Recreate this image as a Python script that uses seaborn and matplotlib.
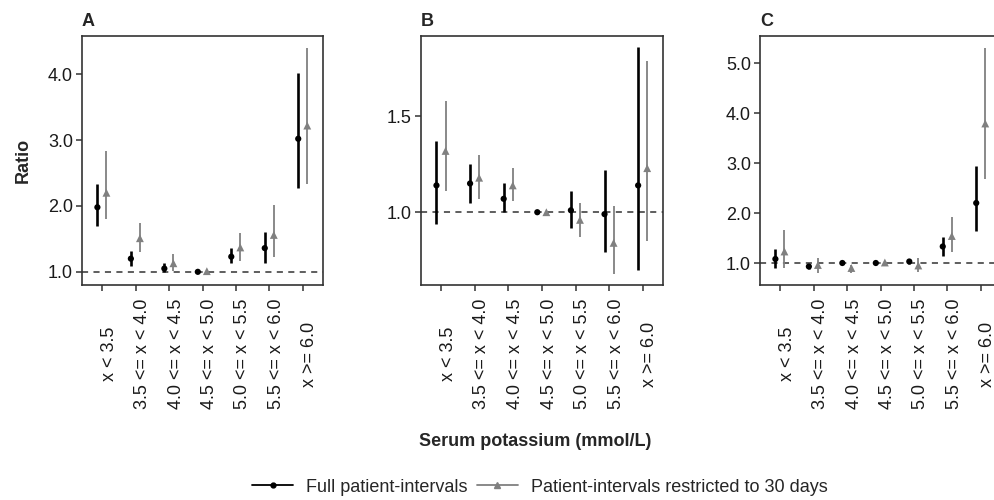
import pandas as pd
import matplotlib
matplotlib.use('Agg')
import matplotlib.pyplot as plt
import seaborn as sns
from matplotlib.lines import Line2D
from matplotlib.transforms import ScaledTranslation, blended_transform_factory

categories = ['x < 3.5', '3.5 <= x < 4.0', '4.0 <= x < 4.5', '4.5 <= x < 5.0',
              '5.0 <= x < 5.5', '5.5 <= x < 6.0', 'x >= 6.0']
panels = ['A', 'B', 'C']

# panel A
a_full = [1.98, 1.20, 1.05, 1.00, 1.23, 1.36, 3.02]
a_full_lo = [1.69, 1.09, 1.00, 1.00, 1.13, 1.13, 2.27]
a_full_hi = [2.33, 1.32, 1.13, 1.00, 1.36, 1.60, 4.02]
a_30 = [2.20, 1.51, 1.13, 1.01, 1.37, 1.56, 3.22]
a_30_lo = [1.80, 1.30, 1.02, 0.99, 1.17, 1.22, 2.33]
a_30_hi = [2.84, 1.74, 1.27, 1.02, 1.59, 2.01, 4.40]

# panel B
b_full = [1.14, 1.15, 1.07, 1.00, 1.01, 0.99, 1.14]
b_full_lo = [0.94, 1.05, 1.00, 1.00, 0.92, 0.79, 0.70]
b_full_hi = [1.37, 1.25, 1.15, 1.00, 1.11, 1.22, 1.86]
b_30 = [1.32, 1.18, 1.14, 1.00, 0.96, 0.84, 1.23]
b_30_lo = [1.11, 1.07, 1.06, 0.995, 0.87, 0.68, 0.85]
b_30_hi = [1.58, 1.30, 1.23, 1.005, 1.05, 1.03, 1.79]

# panel C
c_full = [1.08, 0.93, 1.00, 1.00, 1.03, 1.33, 2.20]
c_full_lo = [0.91, 0.88, 0.98, 1.00, 0.99, 1.15, 1.64]
c_full_hi = [1.28, 0.99, 1.02, 1.00, 1.08, 1.52, 2.95]
c_30 = [1.23, 0.96, 0.90, 1.01, 0.95, 1.54, 3.79]
c_30_lo = [0.91, 0.81, 0.80, 0.99, 0.83, 1.23, 2.68]
c_30_hi = [1.67, 1.11, 0.97, 1.03, 1.11, 1.92, 5.31]

ylims = {'A': (0.80, 4.58), 'B': (0.62, 1.92), 'C': (0.56, 5.54)}
yticks = {'A': [1.0, 2.0, 3.0, 4.0], 'B': [1.0, 1.5], 'C': [1.0, 2.0, 3.0, 4.0, 5.0]}

series = {
    'A': [(a_full, a_full_lo, a_full_hi), (a_30, a_30_lo, a_30_hi)],
    'B': [(b_full, b_full_lo, b_full_hi), (b_30, b_30_lo, b_30_hi)],
    'C': [(c_full, c_full_lo, c_full_hi), (c_30, c_30_lo, c_30_hi)],
}
groups = ['Full patient-intervals', 'Patient-intervals restricted to 30 days']
colors = {groups[0]: '#000000', groups[1]: '#808080'}
offsets = {groups[0]: -0.14, groups[1]: 0.13}

rows = []
for p in panels:
    for g, (est, lo, hi) in zip(groups, series[p]):
        for i in range(len(categories)):
            rows.append({'panel': p, 'group': g, 'idx': i, 'x': i + offsets[g],
                         'est': est[i], 'lo': lo[i], 'hi': hi[i]})
df = pd.DataFrame(rows)

sns.set_style('white')
plt.rcParams['font.family'] = ['Liberation Sans', 'DejaVu Sans']

fig = plt.figure(figsize=(9.94, 5.0), dpi=100)
lefts = [82, 421, 760]
widths = [241, 242, 241]
for p, left, w in zip(panels, lefts, widths):
    ax = fig.add_axes([left / 994, 1 - 285 / 500, w / 994, 249 / 500])
    sub = df[df['panel'] == p]
    ax.axhline(1.0, color='#333333', lw=1.1, ls=(0, (4, 3.5)), zorder=1)
    for g in groups:
        s = sub[sub['group'] == g]
        ax.vlines(s['x'], s['lo'], s['hi'], colors=colors[g],
                  lw=1.9 if g == groups[0] else 1.3, zorder=2)
    sns.scatterplot(data=sub, x='x', y='est', hue='group', style='group',
                    palette=colors, markers={groups[0]: 'o', groups[1]: '^'},
                    size='group', sizes={groups[0]: 20, groups[1]: 32},
                    edgecolor='none', legend=False, ax=ax, zorder=3)
    ax.set_xlim(-0.6, 6.6)
    ax.set_ylim(*ylims[p])
    ax.set_yticks(yticks[p])
    ax.set_yticklabels([f'{t:.1f}' for t in yticks[p]], fontsize=13)
    ax.set_xticks(range(len(categories)))
    ax.set_xticklabels([])
    # category labels, rotated and centred below each tick
    trans = blended_transform_factory(ax.transData, ax.transAxes) + \
        ScaledTranslation(7 / 100, -69 / 100, fig.dpi_scale_trans)
    for i, lab in enumerate(categories):
        ax.text(i, 0, lab, transform=trans, rotation=90, fontsize=13,
                ha='center', va='center', color='#1a1a1a')
    ax.tick_params(axis='both', bottom=True, left=True, length=4, width=1.1,
                   color='#333333')
    ax.tick_params(axis='y', pad=2.5, labelcolor='#1a1a1a')
    ax.set_xlabel('')
    ax.set_ylabel('')
    for sp in ax.spines.values():
        sp.set_color('#333333')
        sp.set_linewidth(1.2)
    ax.text(0, 1.025, p, transform=ax.transAxes, fontsize=13, fontweight='bold',
            ha='left', va='bottom')
    if p == 'A':
        ax.set_ylabel('Ratio', fontsize=13, fontweight='bold', labelpad=12)

fig.text(0.538, 0.116, 'Serum potassium (mmol/L)', fontsize=13, fontweight='bold',
         ha='center', va='center')

handles = [Line2D([], [], color='#000000', lw=1.3, marker='o', markersize=3.5),
           Line2D([], [], color='#808080', lw=1.3, marker='^', markersize=4)]
fig.legend(handles, groups, loc='center', bbox_to_anchor=(0.543, 0.026), ncol=2,
           frameon=False, fontsize=13, handlelength=2.3, handletextpad=0.7,
           columnspacing=0.5)

fig.savefig('out.png', dpi=100)
